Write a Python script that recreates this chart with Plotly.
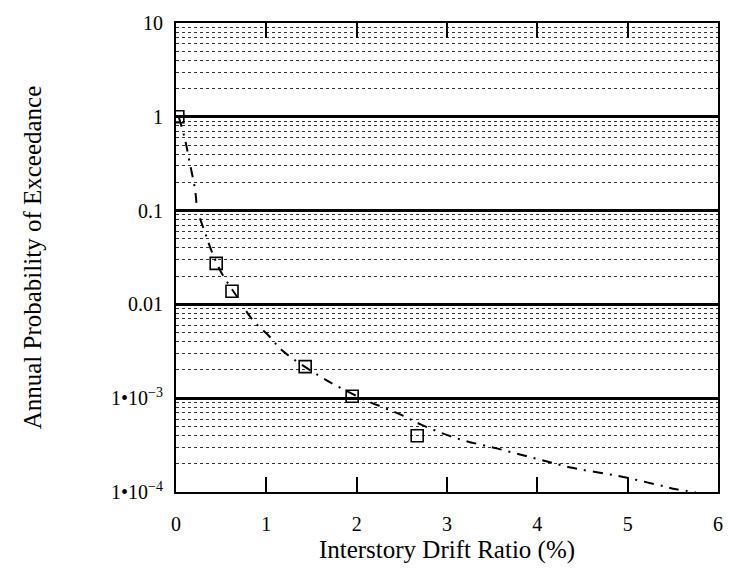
import plotly.graph_objects as go

# Data
marker_x = [0.02, 0.445, 0.62, 1.43, 1.95, 2.67]
marker_y = [1.0, 0.0274, 0.0138, 0.00217, 0.00105, 0.000398]

curve_x = [0.03, 0.10, 0.15, 0.21, 0.24, 0.32, 0.39, 0.50, 0.67, 0.85, 1.03, 1.18,
           1.58, 1.75, 2.10, 2.32, 2.50, 2.72, 3.12, 3.56, 4.00, 4.40, 4.90, 5.32,
           5.54, 5.75]
curve_y = [1.0, 0.57, 0.33, 0.17, 0.10, 0.059, 0.038, 0.022, 0.0123, 0.0068, 0.0046,
           0.0032, 0.00174, 0.0014, 0.00095, 0.00078, 0.00066, 0.00052, 0.00037,
           0.00029, 0.000225, 0.00018, 0.000148, 0.00012, 0.000107, 0.0001]

y_tickvals = [1e-4, 1e-3, 0.01, 0.1, 1, 10]
y_ticktext = ["1•10<sup>−4</sup>", "1•10<sup>−3</sup>", "0.01", "0.1", "1", "10"]
x_tickvals = [0, 1, 2, 3, 4, 5, 6]
minor_vals = [m * 10 ** e for e in range(-4, 1) for m in range(2, 10)]

FONT = "Liberation Serif, Times New Roman, serif"

fig = go.Figure()
fig.add_trace(go.Scatter(
    x=curve_x, y=curve_y, mode="lines",
    line=dict(color="black", width=2, dash="10px,7px,2px,7px", shape="spline"),
    showlegend=False, hoverinfo="skip"))
fig.add_trace(go.Scatter(
    x=marker_x, y=marker_y, mode="markers",
    marker=dict(symbol="square-open", size=12, color="black", line=dict(width=1.6)),
    showlegend=False))

fig.update_layout(
    width=735, height=574,
    margin=dict(l=176, r=13, t=13, b=82),
    paper_bgcolor="white", plot_bgcolor="white",
    font=dict(family=FONT, color="black", size=21),
    xaxis=dict(
        range=[0, 6], tickvals=x_tickvals, ticks="inside", ticklen=15, tickwidth=2,
        tickcolor="black", showline=True, linecolor="black", linewidth=2,
        mirror="ticks", showgrid=False, zeroline=False,
        tickfont=dict(size=20), ticklabelstandoff=13,
        title=dict(text="Interstory Drift Ratio (%)", font=dict(size=25), standoff=6)),
    yaxis=dict(
        type="log", range=[-4, 1], tickvals=y_tickvals, ticktext=y_ticktext,
        ticks="", showline=True, linecolor="black", linewidth=2, mirror=True,
        showgrid=True, gridcolor="black", gridwidth=2.5, zeroline=False,
        tickfont=dict(size=20), ticklabelstandoff=7,
        minor=dict(tickvals=minor_vals, showgrid=True, gridcolor="#333333",
                   griddash="dot", gridwidth=1, ticks=""),
        title=dict(text="Annual Probability of Exceedance", font=dict(size=25), standoff=62)),
)

fig.write_html("out.html")
